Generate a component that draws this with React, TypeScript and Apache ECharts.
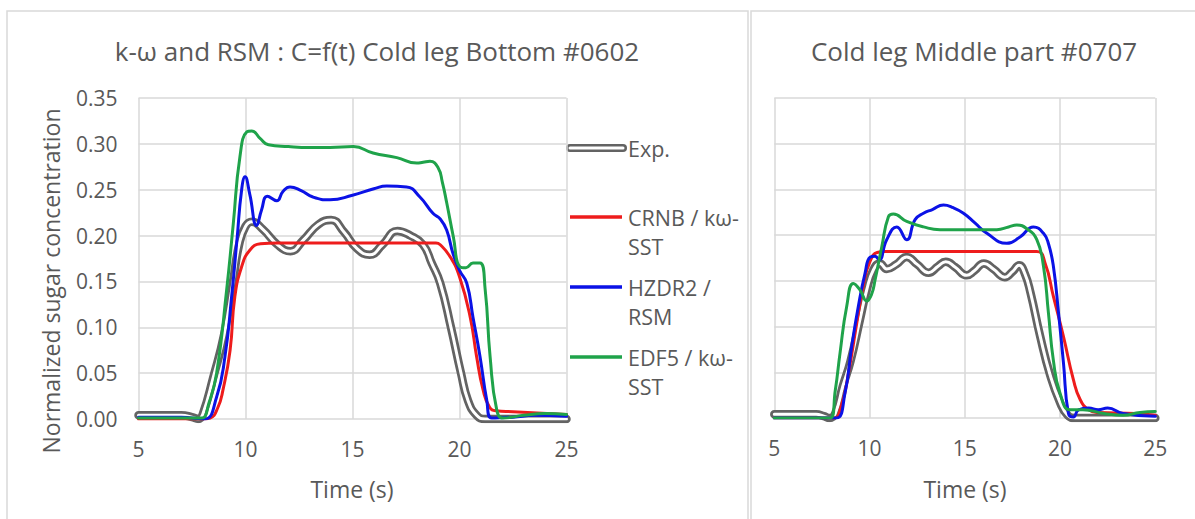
import React, { useEffect, useRef } from "react";
import * as echarts from "echarts";

// Cold leg Bottom #0602 — time (s) and normalized concentration
const expBottomT = [5, 6, 7, 7.5, 7.8, 8.0, 8.5, 9.0, 9.42, 9.7, 10.0, 10.3, 10.8, 11.5, 12.1, 12.7, 13.4, 14.0, 14.6, 15.2, 15.8, 16.4, 17.1, 17.7, 18.3, 18.7, 19.1, 19.6, 20.07, 20.4, 20.8, 21.2, 22, 23, 24, 25];
const expBottomV = [0.004, 0.004, 0.004, 0.002, 0.0, 0.005, 0.046, 0.092, 0.15, 0.19, 0.21, 0.215, 0.207, 0.19, 0.183, 0.195, 0.212, 0.217, 0.204, 0.186, 0.179, 0.19, 0.205, 0.2, 0.19, 0.17, 0.148, 0.1, 0.05, 0.02, 0.004, 0, 0, 0, 0, 0];

const crnbBottomT = [5, 8.0, 8.35, 8.7, 8.95, 9.28, 9.5, 9.82, 10.2, 10.7, 11.5, 18.9, 19.1, 19.56, 20.0, 20.5, 20.8, 21.1, 21.4, 21.7, 22.5, 25];
const crnbBottomV = [0, 0, 0.001, 0.012, 0.032, 0.075, 0.133, 0.166, 0.184, 0.191, 0.192, 0.192, 0.19, 0.177, 0.155, 0.111, 0.068, 0.032, 0.013, 0.009, 0.008, 0.005];

const hzdrBottomT = [5, 7, 7.5, 8.1, 8.65, 9.04, 9.35, 9.6, 9.82, 9.98, 10.2, 10.52, 10.75, 11.02, 11.46, 11.75, 12.08, 12.6, 13.15, 13.95, 15.0, 16.0, 16.6, 17.53, 18.15, 18.77, 19.1, 19.4, 19.7, 20.0, 20.34, 20.63, 20.96, 21.27, 21.5, 22.5, 23.5, 25];
const hzdrBottomV = [0.002, 0.002, 0.001, 0.0, 0.024, 0.068, 0.133, 0.195, 0.25, 0.264, 0.245, 0.211, 0.228, 0.243, 0.238, 0.248, 0.253, 0.249, 0.242, 0.239, 0.244, 0.251, 0.254, 0.253, 0.242, 0.224, 0.218, 0.206, 0.18, 0.162, 0.148, 0.111, 0.068, 0.021, 0.001, 0.002, 0.004, 0.003];

const edfBottomT = [5, 7.5, 7.95, 8.3, 8.65, 9.12, 9.43, 9.74, 10.06, 10.3, 10.68, 11.07, 12, 13, 13.95, 15.04, 15.96, 17.07, 18.0, 18.3, 18.62, 19.0, 19.2, 19.4, 19.71, 20.02, 20.3, 20.63, 20.96, 21.2, 21.43, 21.74, 22.04, 23, 24, 25];
const edfBottomV = [0.001, 0.001, 0.001, 0.018, 0.05, 0.141, 0.213, 0.286, 0.313, 0.314, 0.306, 0.299, 0.297, 0.296, 0.296, 0.297, 0.29, 0.285, 0.279, 0.28, 0.281, 0.274, 0.258, 0.236, 0.199, 0.166, 0.165, 0.17, 0.17, 0.141, 0.068, 0.01, 0.001, 0.004, 0.006, 0.005];

// Cold leg Middle part #0707
const expMiddleT = [5, 7.2, 7.6, 7.9, 8.2, 8.6, 9.0, 9.5, 9.85, 10.2, 10.55, 10.9, 11.4, 11.95, 12.5, 13.1, 13.6, 14.0, 14.5, 15.1, 15.5, 16.0, 16.5, 17.1, 17.5, 17.85, 18.15, 18.45, 18.95, 19.48, 20.0, 20.4, 20.8, 25];
const expMiddleV = [0.004, 0.004, 0.002, 0.0, 0.005, 0.035, 0.062, 0.108, 0.14, 0.162, 0.169, 0.163, 0.168, 0.176, 0.168, 0.159, 0.166, 0.171, 0.165, 0.156, 0.161, 0.169, 0.163, 0.154, 0.16, 0.167, 0.158, 0.137, 0.09, 0.047, 0.017, 0.003, 0, 0];

const crnbMiddleT = [5, 8.1, 8.5, 8.9, 9.3, 9.7, 10.0, 10.4, 10.8, 18.78, 19.22, 19.65, 20.18, 20.7, 21.06, 21.5, 22, 24, 25];
const crnbMiddleV = [0, 0, 0.012, 0.05, 0.1, 0.148, 0.17, 0.181, 0.182, 0.182, 0.169, 0.133, 0.089, 0.042, 0.02, 0.009, 0.006, 0.005, 0.003];

const hzdrMiddleT = [5, 7.3, 7.8, 8.28, 8.71, 9.06, 9.41, 9.76, 10.03, 10.29, 10.5, 10.9, 11.43, 11.95, 12.39, 12.83, 13.3, 13.88, 14.4, 14.93, 15.5, 16.16, 17.2, 17.9, 18.6, 19.13, 19.4, 19.65, 19.92, 20.18, 20.44, 20.7, 20.97, 21.5, 22.0, 22.5, 23.3, 25];
const hzdrMiddleV = [0.0, 0.0, 0.0, 0.0, 0.027, 0.078, 0.122, 0.158, 0.176, 0.177, 0.173, 0.195, 0.209, 0.195, 0.217, 0.224, 0.228, 0.233, 0.23, 0.224, 0.214, 0.202, 0.191, 0.198, 0.209, 0.202, 0.19, 0.166, 0.115, 0.06, 0.005, 0.001, 0.009, 0.011, 0.009, 0.011, 0.005, 0.002];

const edfMiddleT = [5, 7.5, 7.93, 8.2, 8.45, 8.8, 9.15, 9.5, 9.85, 10.1, 10.29, 10.64, 10.99, 11.25, 11.95, 12.83, 13.7, 14.93, 16.68, 17.3, 17.73, 18.26, 18.78, 19.13, 19.39, 19.65, 20.0, 20.53, 21.2, 22.3, 23.3, 24.2, 25];
const edfMiddleV = [0.0, 0.0, 0.0, 0.03, 0.071, 0.122, 0.147, 0.14, 0.128, 0.135, 0.151, 0.187, 0.22, 0.223, 0.215, 0.209, 0.206, 0.206, 0.206, 0.209, 0.211, 0.207, 0.195, 0.166, 0.115, 0.063, 0.027, 0.009, 0.009, 0.005, 0.003, 0.006, 0.007];

const legendNames = ["Exp.", "CRNB / kω-\nSST", "HZDR2 /\nRSM", "EDF5 / kω-\nSST"];
const titles = ["k-ω and RSM : C=f(t) Cold leg Bottom #0602", "Cold leg Middle part #0707"];

const EXP_COLOR = "#636363";
const CRNB_COLOR = "#ee1c1c";
const HZDR_COLOR = "#0b12e6";
const EDF_COLOR = "#1fa34a";
const TEXT = "#595959";
const GRID = "#d9d9d9";
const FONT = '"Open Sans", sans-serif';

const zip = (t: number[], v: number[]) => t.map((x, i) => [x, v[i]]);

function lineSeries(idx: number, data: number[][], color: string, width: number, z: number) {
  return {
    type: "line",
    xAxisIndex: idx,
    yAxisIndex: idx,
    data,
    showSymbol: false,
    smooth: 0.5,
    lineStyle: { color, width, cap: "round", join: "round" },
    z,
    silent: true,
  };
}

function expSeries(idx: number, data: number[][]) {
  return [lineSeries(idx, data, EXP_COLOR, 8.5, 2), lineSeries(idx, data, "#ffffff", 3, 3)];
}

function xAxis(idx: number) {
  return {
    gridIndex: idx,
    type: "value",
    min: 5,
    max: 25,
    interval: 5,
    axisLine: { show: false },
    axisTick: { show: false },
    splitLine: { show: true, lineStyle: { color: GRID, width: 1.5 } },
    axisLabel: { color: TEXT, fontSize: 21, fontFamily: FONT, margin: 19 },
  };
}

function yAxis(idx: number, labels: boolean) {
  return {
    gridIndex: idx,
    type: "value",
    min: 0,
    max: 0.35,
    interval: 0.05,
    axisLine: { show: false },
    axisTick: { show: false },
    splitLine: { show: true, lineStyle: { color: GRID, width: 1.5 } },
    axisLabel: {
      show: labels,
      color: TEXT,
      fontSize: 21,
      fontFamily: FONT,
      margin: 21,
      formatter: (v: number) => v.toFixed(2),
    },
  };
}

function txt(text: string, x: number, y: number, size: number, align = "center", rotation = 0) {
  return {
    type: "text",
    x,
    y,
    rotation,
    silent: true,
    style: {
      text,
      fill: TEXT,
      font: `${size}px ${FONT}`,
      textAlign: align,
      textVerticalAlign: "middle",
      lineHeight: 29,
    },
  };
}

function legendLine(y: number, color: string) {
  return {
    type: "line",
    silent: true,
    shape: { x1: 570, y1: y, x2: 622, y2: y },
    style: { stroke: color, lineWidth: 3.5 },
  };
}

export default function App() {
  const ref = useRef<HTMLDivElement>(null);

  useEffect(() => {
    if (!ref.current) return;
    const chart = echarts.init(ref.current, undefined, { renderer: "svg" });

    const legendY = [148, 217, 287, 357];
    const legendColors = [EXP_COLOR, CRNB_COLOR, HZDR_COLOR, EDF_COLOR];

    const graphic: any[] = [
      {
        type: "rect",
        silent: true,
        shape: { x: 7, y: 11, width: 741, height: 530 },
        style: { fill: "none", stroke: GRID, lineWidth: 1.5 },
      },
      {
        type: "rect",
        silent: true,
        shape: { x: 751, y: 11, width: 470, height: 530 },
        style: { fill: "none", stroke: GRID, lineWidth: 1.5 },
      },
      txt(titles[0], 377, 51, 26),
      txt(titles[1], 974, 51, 26),
      txt("Normalized sugar concentration", 51, 281, 23, "center", Math.PI / 2),
      txt("Time (s)", 352, 489, 23),
      txt("Time (s)", 965, 489, 23),
      // Exp. legend key: grey double line
      {
        type: "line",
        silent: true,
        shape: { x1: 570, y1: 148, x2: 623, y2: 148 },
        style: { stroke: EXP_COLOR, lineWidth: 8, lineCap: "round" },
      },
      {
        type: "line",
        silent: true,
        shape: { x1: 570, y1: 148, x2: 623, y2: 148 },
        style: { stroke: "#ffffff", lineWidth: 3, lineCap: "round" },
      },
    ];
    for (let i = 1; i < 4; i++) graphic.push(legendLine(legendY[i], legendColors[i]));
    legendNames.forEach((name, i) => {
      const lines = name.split("\n");
      lines.forEach((ln, j) => graphic.push(txt(ln, 628, legendY[i] + j * 29, 21.5, "left")));
    });

    chart.setOption({
      animation: false,
      backgroundColor: "#ffffff",
      textStyle: { fontFamily: FONT },
      grid: [
        { left: 138.5, top: 98, width: 428, height: 321, outerBoundsMode: "none" },
        { left: 774.3, top: 98, width: 381, height: 320, outerBoundsMode: "none" },
      ],
      xAxis: [xAxis(0), xAxis(1)],
      yAxis: [yAxis(0, true), yAxis(1, false)],
      series: [
        ...expSeries(0, zip(expBottomT, expBottomV)),
        lineSeries(0, zip(crnbBottomT, crnbBottomV), CRNB_COLOR, 3, 4),
        lineSeries(0, zip(hzdrBottomT, hzdrBottomV), HZDR_COLOR, 3, 5),
        lineSeries(0, zip(edfBottomT, edfBottomV), EDF_COLOR, 3, 6),
        ...expSeries(1, zip(expMiddleT, expMiddleV)),
        lineSeries(1, zip(crnbMiddleT, crnbMiddleV), CRNB_COLOR, 3, 4),
        lineSeries(1, zip(hzdrMiddleT, hzdrMiddleV), HZDR_COLOR, 3, 5),
        lineSeries(1, zip(edfMiddleT, edfMiddleV), EDF_COLOR, 3, 6),
      ],
      graphic,
    });

    return () => chart.dispose();
  }, []);

  return (
    <div
      ref={ref}
      style={{ position: "absolute", left: 0, top: 0, width: 1195, height: 519, background: "#fff" }}
    />
  );
}
